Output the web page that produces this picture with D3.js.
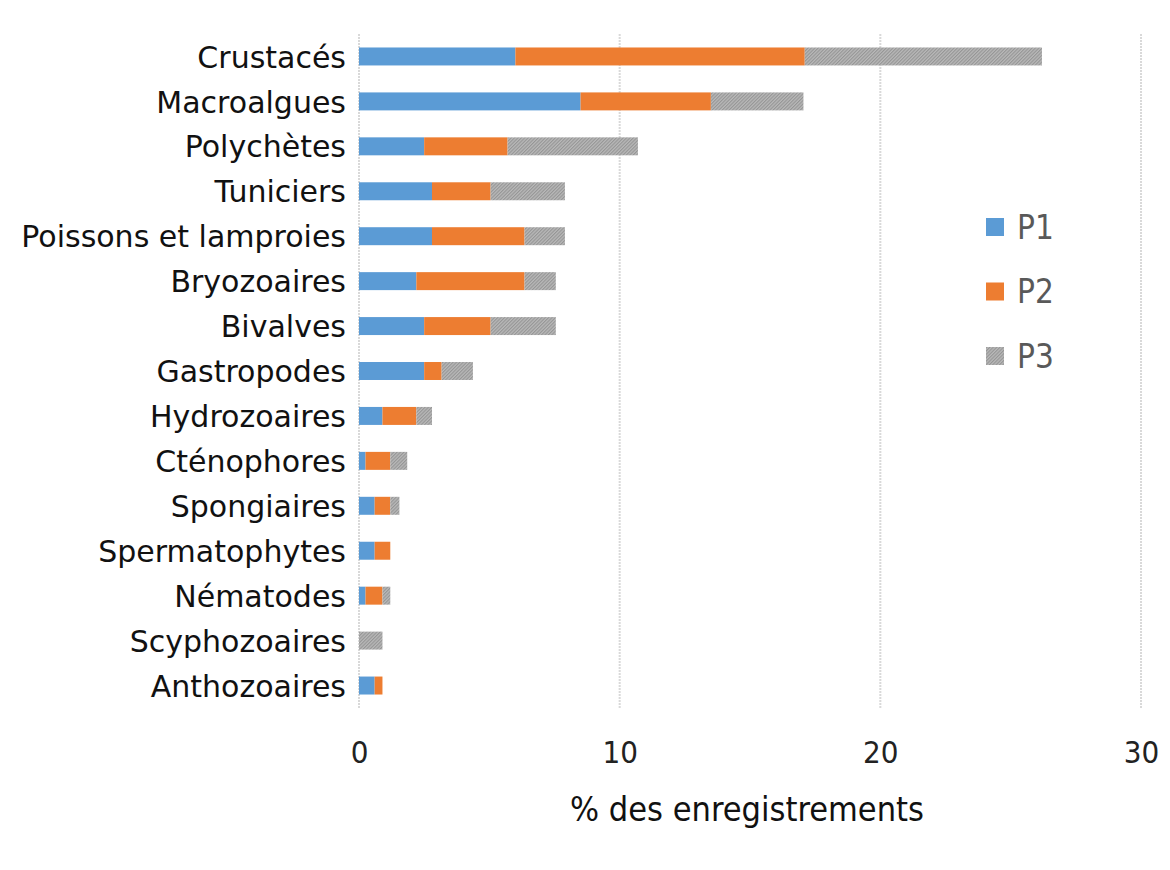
<!DOCTYPE html>
<html><head><meta charset="utf-8">
<script src="https://cdn.jsdelivr.net/npm/d3@7"></script>
<style>html,body{margin:0;padding:0;background:#fff;}</style>
</head><body>
<svg id="chart" width="1170" height="870"></svg>
<script>
const categories = ["Crustacés","Macroalgues","Polychètes","Tuniciers","Poissons et lamproies","Bryozoaires","Bivalves","Gastropodes","Hydrozoaires","Cténophores","Spongiaires","Spermatophytes","Nématodes","Scyphozoaires","Anthozoaires"];
const P1 = [6.0, 8.5, 2.5, 2.8, 2.8, 2.2, 2.5, 2.5, 0.9, 0.25, 0.6, 0.6, 0.25, 0, 0.6];
const P2 = [11.1, 5.0, 3.2, 2.25, 3.55, 4.15, 2.55, 0.67, 1.3, 0.95, 0.6, 0.6, 0.65, 0, 0.3];
const P3 = [9.1, 3.55, 5.0, 2.85, 1.55, 1.2, 2.5, 1.2, 0.6, 0.65, 0.35, 0, 0.3, 0.9, 0];
const seriesNames = ["P1","P2","P3"];
const xTicks = [0, 10, 20, 30];
const xTitle = "% des enregistrements";

const svg = d3.select("#chart");
const defs = svg.append("defs");
const pat = defs.append("pattern").attr("id","hatch").attr("patternUnits","userSpaceOnUse")
  .attr("width",2.4).attr("height",2.4).attr("patternTransform","rotate(45)");
pat.append("rect").attr("width",2.4).attr("height",2.4).attr("fill","#b9b9b9");
pat.append("rect").attr("width",1.1).attr("height",2.4).attr("fill","#959595");

const colors = ["#5b9bd5","#ed7d31","url(#hatch)"];
const x = d3.scaleLinear().domain([0,30]).range([359, 1141]);
const y = d3.scaleBand().domain(categories).range([34, 708]).paddingInner(0.6).paddingOuter(0.3);

const table = categories.map((c,i)=>({cat:c, P1:P1[i], P2:P2[i], P3:P3[i]}));
const stacked = d3.stack().keys(seriesNames)(table);

// gridlines
svg.append("g").selectAll("line").data(xTicks).join("line")
  .attr("x1",d=>x(d)).attr("x2",d=>x(d)).attr("y1",34).attr("y2",708)
  .attr("stroke","#d9d9d9").attr("stroke-width",2).attr("stroke-dasharray","2,1");

// bars
svg.append("g").selectAll("g").data(stacked).join("g")
  .attr("fill",(d,i)=>colors[i])
  .selectAll("rect").data(d=>d).join("rect")
  .attr("x",d=>x(d[0])).attr("width",d=>Math.max(0,x(d[1])-x(d[0])))
  .attr("y",d=>y(d.data.cat)).attr("height",y.bandwidth());

// category axis
const yAxis = svg.append("g").attr("transform",`translate(346,0)`)
  .call(d3.axisLeft(y).tickSize(0).tickPadding(0));
yAxis.select(".domain").remove();
yAxis.selectAll("text").attr("font-family","'DejaVu Sans'").attr("font-size",30).attr("fill","#111").attr("dy","0.37em");

// x axis
const xAxis = svg.append("g").attr("transform",`translate(0,741)`)
  .call(d3.axisBottom(x).tickValues(xTicks).tickSize(0).tickPadding(0));
xAxis.select(".domain").remove();
xAxis.selectAll("text").attr("font-family","'Liberation Sans Narrow','DejaVu Sans Condensed',sans-serif").attr("font-size",31).attr("fill","#222").attr("dy","0.71em");

svg.append("text").attr("x",747).attr("y",821).attr("text-anchor","middle")
  .attr("font-family","'Liberation Sans Narrow','DejaVu Sans Condensed',sans-serif").attr("font-size",34).attr("fill","#111")
  .text(xTitle);

// legend
const lg = svg.append("g").attr("transform","translate(986,218)");
const item = lg.selectAll("g").data(seriesNames).join("g").attr("transform",(d,i)=>`translate(0,${i*64.5})`);
item.append("rect").attr("width",18).attr("height",18).attr("fill",(d,i)=>colors[i]);
item.append("text").attr("x",31).attr("y",9).attr("dy","0.36em")
  .attr("font-family","'Liberation Sans Narrow','DejaVu Sans Condensed',sans-serif").attr("font-size",33).attr("fill","#595959").text(d=>d);
</script>
</body></html>
